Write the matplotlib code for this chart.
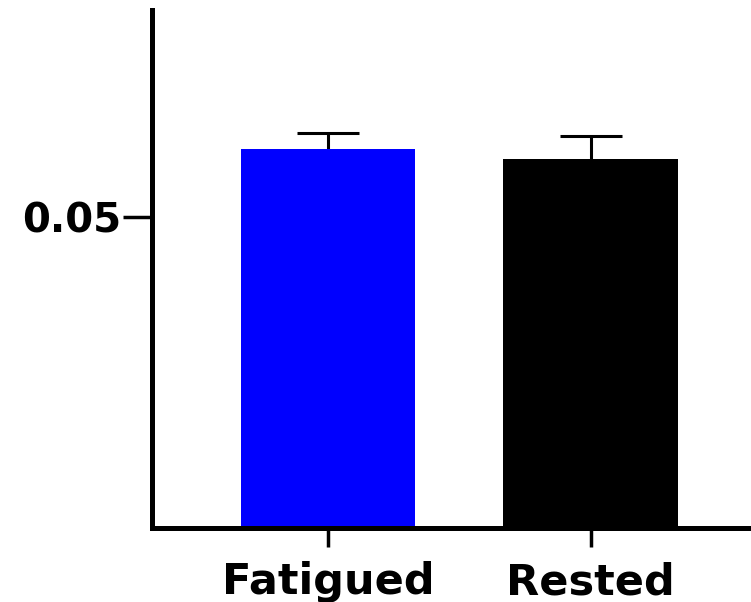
import matplotlib
matplotlib.use("Agg")
import matplotlib.pyplot as plt

# --- data ---
groups = ["Fatigued", "Rested"]
means = [0.0609, 0.0593]
errors = [0.0026, 0.0037]
colors = ["#0000ff", "#000000"]
y_ticks = [0.05]
y_tick_labels = ["0.05"]

plt.rcParams["font.family"] = ["DejaVu Sans"]
plt.rcParams["font.weight"] = "bold"

fig = plt.figure(figsize=(7.51, 6.02), dpi=100)
ax = fig.add_axes([152 / 751, 74 / 602, 1 - 152 / 751, 518 / 602])

x = list(range(len(groups)))
ax.bar(x, means, width=0.665, color=colors, zorder=2)
# upward-only error bars (hide the lower caps)
eb = ax.errorbar(x, means, yerr=[[0] * len(errors), errors], fmt="none",
                 ecolor="black", elinewidth=2.2, capsize=22, capthick=2.2, zorder=1)
eb[1][0].set_visible(False)

ax.set_xlim(-0.67, 1.61)
ax.set_ylim(0, 0.0833)
ax.set_xticks(x)
ax.set_xticklabels(groups)
ax.set_yticks(y_ticks)
ax.set_yticklabels(y_tick_labels)

for side in ["top", "right"]:
    ax.spines[side].set_visible(False)
for side in ["left", "bottom"]:
    ax.spines[side].set_linewidth(3.6)

ax.tick_params(axis="y", length=21, width=2.5, labelsize=29, pad=1)
ax.tick_params(axis="x", length=14, width=2.5, labelsize=31, pad=10)
for lbl in ax.get_xticklabels() + ax.get_yticklabels():
    lbl.set_fontweight("bold")

fig.savefig("out.png", dpi=100)
